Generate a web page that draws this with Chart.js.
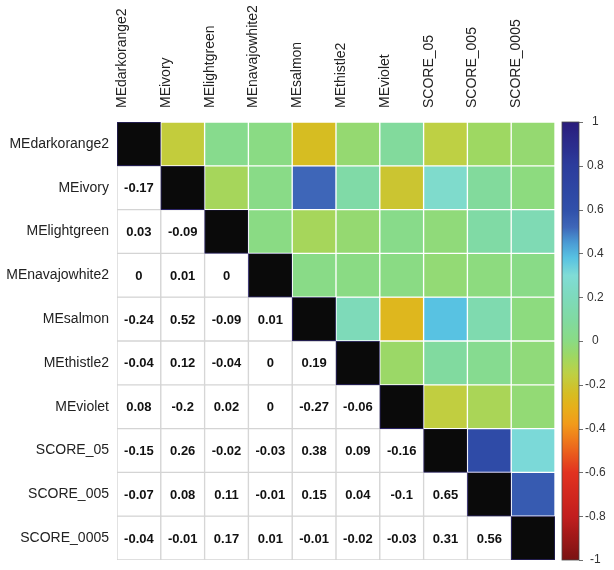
<!DOCTYPE html>
<html>
<head>
    <meta charset="utf-8"/>
    <title>Correlation matrix</title>
    <style>
        html, body { margin: 0; padding: 0; background: #ffffff; }
        #wrap { width: 614px; height: 570px; }
    </style>
    <script src="https://cdn.jsdelivr.net/npm/chart.js@4.4.1/dist/chart.umd.min.js"></script>
</head>
<body>
<div id="wrap"><canvas id="chart" width="614" height="570"></canvas></div>
<script>
    const variables = ['MEdarkorange2', 'MEivory', 'MElightgreen', 'MEnavajowhite2', 'MEsalmon',
        'MEthistle2', 'MEviolet', 'SCORE_05', 'SCORE_005', 'SCORE_0005'];

    // lower triangle, one row per variable (columns in the same order)
    const corrMEivory = [-0.17];
    const corrMElightgreen = [0.03, -0.09];
    const corrMEnavajowhite2 = [0, 0.01, 0];
    const corrMEsalmon = [-0.24, 0.52, -0.09, 0.01];
    const corrMEthistle2 = [-0.04, 0.12, -0.04, 0, 0.19];
    const corrMEviolet = [0.08, -0.2, 0.02, 0, -0.27, -0.06];
    const corrSCORE_05 = [-0.15, 0.26, -0.02, -0.03, 0.38, 0.09, -0.16];
    const corrSCORE_005 = [-0.07, 0.08, 0.11, -0.01, 0.15, 0.04, -0.1, 0.65];
    const corrSCORE_0005 = [-0.04, -0.01, 0.17, 0.01, -0.01, -0.02, -0.03, 0.31, 0.56];

    const lowerTriangle = [[], corrMEivory, corrMElightgreen, corrMEnavajowhite2, corrMEsalmon,
        corrMEthistle2, corrMEviolet, corrSCORE_05, corrSCORE_005, corrSCORE_0005];

    const colorbarTicks = [1, 0.8, 0.6, 0.4, 0.2, 0, -0.2, -0.4, -0.6, -0.8, -1];

    // colour ramp of the legend bar (value -> colour)
    const rampStops = [
        [-1, '#7a1212'], [-0.8, '#c21e1e'], [-0.6, '#e2321f'], [-0.45, '#ef7a1c'],
        [-0.38, '#f29a1a'], [-0.3, '#e6b01a'], [-0.24, '#d6bd22'], [-0.15, '#bed044'],
        [-0.07, '#9ed862'], [0, '#8adb84'], [0.1, '#80daa2'], [0.2, '#7edabc'],
        [0.3, '#80dcd6'], [0.38, '#58c2e2'], [0.45, '#4a9ad4'], [0.52, '#3e66b8'],
        [0.6, '#3050aa'], [0.8, '#2c3c9c'], [1, '#2a1c7c']
    ];

    function hexRgb(h) {
        return [parseInt(h.substr(1, 2), 16), parseInt(h.substr(3, 2), 16), parseInt(h.substr(5, 2), 16)];
    }

    function colorFor(v) {
        for (let k = 1; k < rampStops.length; k++) {
            const [v1, c1] = rampStops[k];
            if (v <= v1) {
                const [v0, c0] = rampStops[k - 1];
                const t = (v - v0) / (v1 - v0);
                const a = hexRgb(c0), b = hexRgb(c1);
                const m = a.map((x, n) => Math.round(x + (b[n] - x) * t));
                return `rgb(${m[0]},${m[1]},${m[2]})`;
            }
        }
        return rampStops[rampStops.length - 1][1];
    }

    function corrAt(i, j) {
        if (i === j) return 1;
        return i > j ? lowerTriangle[i][j] : lowerTriangle[j][i];
    }

    const datasets = variables.map((rowName, i) => ({
        label: rowName,
        data: variables.map(() => [i - 0.5, i + 0.5]),
        backgroundColor: variables.map((_, j) => j === i ? '#0a0a0a' : (j < i ? '#ffffff' : colorFor(corrAt(i, j)))),
        borderColor: variables.map((_, j) => j === i ? '#2b2466' : (j < i ? '#d4d4d4' : '#ffffff')),
        borderWidth: 1,
        borderSkipped: false,
        grouped: false,
        barPercentage: 1,
        categoryPercentage: 1
    }));

    const cellText = {
        id: 'cellText',
        afterDatasetsDraw(chart) {
            const ctx = chart.ctx;
            ctx.save();
            ctx.font = 'bold 13px "Liberation Sans", Arial, sans-serif';
            ctx.fillStyle = '#111111';
            ctx.textAlign = 'center';
            ctx.textBaseline = 'middle';
            chart.data.datasets.forEach((ds, i) => {
                chart.getDatasetMeta(i).data.forEach((el, j) => {
                    if (j >= i) return;
                    ctx.fillText(String(lowerTriangle[i][j]), el.x, (el.y + el.base) / 2 + 1);
                });
            });
            ctx.restore();
        }
    };

    const colorBar = {
        id: 'colorBar',
        afterDraw(chart) {
            const ctx = chart.ctx;
            const sc = chart.scales.yBar;
            const x0 = chart.chartArea.right + 7;
            const w = 17;
            const yTop = sc.getPixelForValue(1);
            const yBot = sc.getPixelForValue(-1);
            const grad = ctx.createLinearGradient(0, yBot, 0, yTop);
            for (let v = -1; v <= 1.0001; v += 0.02) {
                grad.addColorStop(Math.min(1, (v + 1) / 2), colorFor(Math.min(1, v)));
            }
            ctx.save();
            ctx.fillStyle = grad;
            ctx.fillRect(x0, yTop, w, yBot - yTop);
            ctx.strokeStyle = '#4a4a4a';
            ctx.lineWidth = 0.8;
            ctx.strokeRect(x0, yTop, w, yBot - yTop);
            colorbarTicks.forEach((v) => {
                const y = Math.round(sc.getPixelForValue(v)) + 0.5;
                ctx.beginPath();
                ctx.moveTo(x0 + w, y);
                ctx.lineTo(x0 + w + 4, y);
                ctx.stroke();
            });
            ctx.restore();
        }
    };

    const labelFont = { family: '"Liberation Sans", Arial, sans-serif', size: 14 };
    const hidden = 'rgba(0,0,0,0)';

    new Chart(document.getElementById('chart'), {
        type: 'bar',
        data: { labels: variables, datasets: datasets },
        options: {
            responsive: false,
            animation: false,
            devicePixelRatio: 1,
            layout: { padding: { left: 0, right: 0, top: 0, bottom: 10 } },
            plugins: { legend: { display: false }, tooltip: { enabled: false } },
            scales: {
                x: {
                    type: 'category',
                    position: 'top',
                    offset: true,
                    grid: { display: true, drawOnChartArea: false, drawTicks: true, tickLength: 14, tickColor: hidden },
                    border: { display: false },
                    ticks: { autoSkip: false, minRotation: 90, maxRotation: 90, padding: 0, color: '#222222', font: labelFont },
                    afterFit: (axis) => { axis.height = 122; }
                },
                y: {
                    type: 'linear',
                    position: 'left',
                    reverse: true,
                    min: -0.5,
                    max: 9.5,
                    grid: { display: true, drawOnChartArea: false, drawTicks: true, tickLength: 8, tickColor: hidden },
                    border: { display: false },
                    afterBuildTicks: (axis) => { axis.ticks = variables.map((_, i) => ({ value: i })); },
                    ticks: { padding: 0, color: '#222222', font: labelFont, callback: (v) => variables[v] },
                    afterFit: (axis) => { axis.width = 117; }
                },
                yBar: {
                    type: 'linear',
                    position: 'right',
                    min: -1,
                    max: 1,
                    grid: { display: true, drawOnChartArea: false, drawTicks: true, tickLength: 30, tickColor: hidden },
                    border: { display: false },
                    afterBuildTicks: (axis) => { axis.ticks = colorbarTicks.map((v) => ({ value: v })); },
                    ticks: {
                        padding: 0,
                        crossAlign: 'center',
                        color: '#333333',
                        font: { family: '"Liberation Sans", Arial, sans-serif', size: 12 },
                        callback: (v) => String(Math.round(v * 10) / 10)
                    },
                    afterFit: (axis) => { axis.width = 59; }
                }
            }
        },
        plugins: [cellText, colorBar]
    });
</script>
</body>
</html>
